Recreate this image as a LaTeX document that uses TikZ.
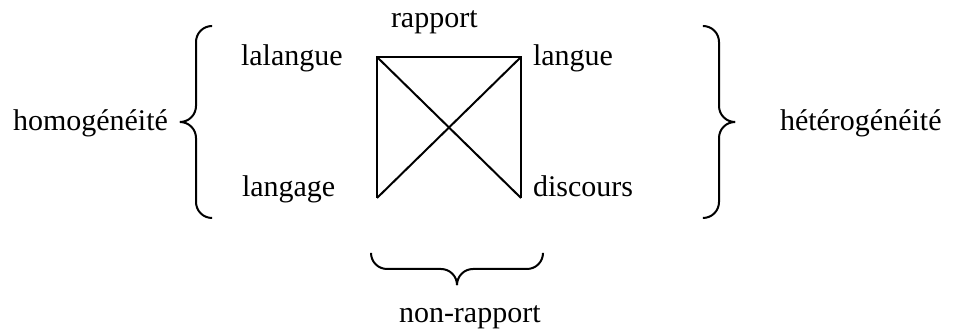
\documentclass[tikz,border=0pt]{standalone}
\usepackage{fontspec}
\setmainfont{Liberation Serif}

\begin{document}
\begin{tikzpicture}[x=0.4pt, y=-0.4pt, line width=0.8pt, font=\fontsize{12}{14}\selectfont]
  \useasboundingbox (0,0) rectangle (953,331);
  % 四个角（无底边）
  \coordinate (TL) at (377, 57);
  \coordinate (TR) at (521, 57);
  \coordinate (BL) at (377, 198);
  \coordinate (BR) at (521, 198);

  \draw (BL) -- (TL) -- (TR) -- (BR);
  \draw (TL) -- (BR);
  \draw (TR) -- (BL);

  \node[anchor=base west, inner sep=0pt] (rapport)    at (390, 28)  {rapport};
  \node[anchor=base west, inner sep=0pt] (lalangue)   at (240, 66)  {lalangue};
  \node[anchor=base west, inner sep=0pt] (langue)     at (532, 66)  {langue};
  \node[anchor=base west, inner sep=0pt] (langage)    at (241, 197) {langage};
  \node[anchor=base west, inner sep=0pt] (discours)   at (532, 197) {discours};
  \node[anchor=base west, inner sep=0pt] (homog)      at (12, 131)  {homogénéité};
  \node[anchor=base west, inner sep=0pt] (heterog)    at (779, 131) {hétérogénéité};
  \node[anchor=base west, inner sep=0pt] (nonrapport) at (398, 323) {non-rapport};

  % 花括号：左、右、下
  \draw[rounded corners=6.4pt] (212,26) -- (196,26) -- (196,122) -- (180,122);
  \draw[rounded corners=6.4pt] (180,122) -- (196,122) -- (196,218) -- (212,218);
  \draw[rounded corners=6.4pt] (703,26) -- (719,26) -- (719,122) -- (735,122);
  \draw[rounded corners=6.4pt] (735,122) -- (719,122) -- (719,218) -- (703,218);
  \draw[rounded corners=6.4pt] (371,253) -- (371,269) -- (457,269) -- (457,285);
  \draw[rounded corners=6.4pt] (457,285) -- (457,269) -- (543,269) -- (543,253);
\end{tikzpicture}
\end{document}
